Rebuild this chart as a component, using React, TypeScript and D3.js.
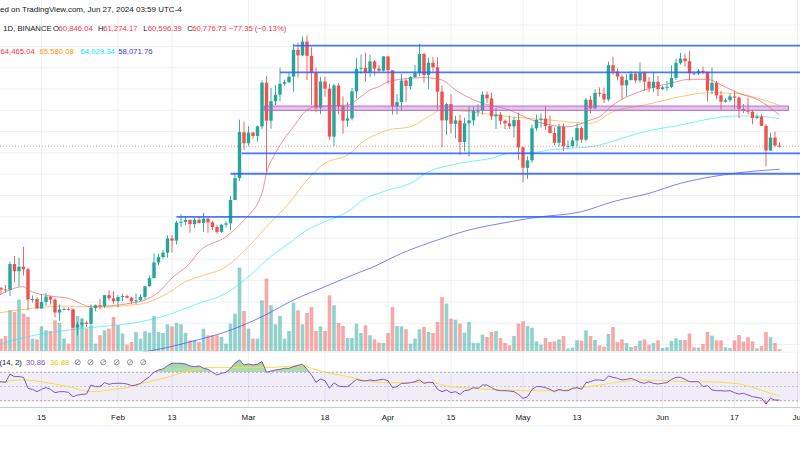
import React from "react";
import * as d3 from "d3";

// ---------- DATA (BINANCE BTC, 1D) ----------
const START_DATE = "2024-01-05";

const opens = [
  44150,44160,43970,43930,46950,46110,46630,46340,42780,42840,
  41730,42510,43140,42770,41260,41620,41660,41570,39500,39850,
  40080,39930,41800,42120,42030,43300,42940,42580,43080,43190,
  43000,42580,42700,43090,44340,45300,47150,47770,48290,49960,
  49700,51820,51900,52140,51640,52140,51780,52280,51850,51300,
  50730,51570,51730,54480,57040,62430,61130,62390,61990,63110,
  68240,63780,66070,66830,68120,68310,68950,72100,71450,73070,
  71390,69400,65300,68390,67550,61910,67910,65490,63780,64060,
  67230,69880,69990,69450,70740,69890,69650,71330,69700,65460,
  65960,68500,67840,68900,69360,71620,69140,70590,70060,67190,
  63820,65730,63420,63810,61280,63470,63820,64940,64940,66840,
  66400,64290,64500,63770,63460,63120,63860,60640,58250,59120,
  62890,63890,64030,63160,62330,61190,63070,60790,60820,61460,
  62910,61550,66250,65230,67050,66940,66270,70300,69550,68950,
  67930,68540,69290,68510,69390,68360,67640,68350,67490,67710,
  67750,68800,70570,71080,70760,69340,69310,69650,69510,67320,
  68240,66750,66010,66190,66640,66490,65150,64960,64830,64100,
  64260,63160,60280,61800,60846.04,
];
const highs = [
  44500,44230,44500,47250,47900,47700,48970,46500,43260,43070,
  43400,43580,43200,42930,42200,41870,41880,41680,40130,40550,
  40300,42220,42200,42840,43310,43880,43750,43290,43490,43380,
  43120,43500,43400,44370,45600,48200,48170,48590,50330,50370,
  52040,52820,52580,52190,52380,52490,52980,52370,52050,51550,
  51680,51960,54940,57590,63910,63680,63110,62430,63230,68500,
  69000,67640,67980,69990,68580,69500,72800,72960,73650,73780,
  72400,70000,68900,68960,68110,68100,68200,66650,65970,67620,
  71150,71560,71770,71550,70900,70330,71370,71340,69700,66900,
  69290,68730,69000,70320,72800,71760,71170,71260,71230,67930,
  65840,66870,64360,64490,64130,65450,65440,65700,67230,67210,
  67080,65290,64800,63930,64370,64230,64730,60780,59600,63320,
  64490,64640,65500,64390,62990,63420,63460,61490,61820,63450,
  63100,66460,66700,67450,67700,67690,70700,71300,69900,69200,
  69220,69580,69560,70620,69560,68920,69500,69030,67860,68450,
  70280,71060,71760,71630,71950,69580,69850,70150,69560,69990,
  68450,67300,66400,66980,67300,66570,65730,66480,65070,64530,
  64550,63370,62370,62480,61274.17,
];
const lows = [
  42600,43400,43600,43200,44800,44300,45600,41500,42440,41720,
  41700,42050,42200,40680,40280,41500,41500,39440,38560,39480,
  39550,39800,41400,41620,41800,42680,42280,41880,42580,42880,
  42220,42260,42570,42790,44330,45250,46800,47560,47710,48300,
  49250,51300,51550,50620,51160,51680,50760,50630,50930,50520,
  50590,51280,50900,54450,56700,60360,60780,61600,61300,62800,
  57800,62850,65600,66070,67880,68180,67200,68850,71330,68560,
  65630,64780,64550,66600,61540,60780,64530,62260,63060,63800,
  66390,69280,68380,68900,69080,69500,69560,68110,64500,64500,
  65050,66010,67450,68820,69040,68220,67520,69560,65090,60660,
  62130,62270,61700,59770,60170,59600,63170,64250,64500,65850,
  63880,62800,63300,62790,62810,61800,59190,56550,56940,58850,
  62600,62950,62700,62280,60890,60750,60190,60490,60630,60750,
  61150,61330,64620,65120,66600,65850,66060,69200,68500,66300,
  66620,68540,68230,68250,67300,67120,67130,66670,67390,67300,
  67610,68560,70380,70120,68500,69120,69150,69230,66050,66900,
  66300,65080,65870,65980,65120,64060,64690,64500,63380,63930,
  63200,58400,60250,60720,60596.39,
];
const closes = [
  44160,43970,43930,46950,46110,46630,46340,42780,42840,41730,
  42510,43140,42770,41260,41620,41660,41570,39500,39850,40080,
  39930,41800,42120,42030,43300,42940,42580,43080,43190,43000,
  42580,42700,43090,44340,45300,47150,47770,48290,49960,49700,
  51820,51900,52140,51640,52140,51780,52280,51850,51300,50730,
  51570,51730,54480,57040,62430,61130,62390,61990,63110,68240,
  63780,66070,66830,68120,68310,68950,72100,71450,73070,71390,
  69400,65300,68390,67550,61910,67910,65490,63780,64060,67230,
  69880,69990,69450,70740,69890,69650,71330,69700,65460,65960,
  68500,67840,68900,69360,71620,69140,70590,70060,67190,63820,
  65730,63420,63810,61280,63470,63820,64940,64940,66840,66400,
  64290,64500,63770,63460,63120,63860,60640,58250,59120,62890,
  63890,64030,63160,62330,61190,63070,60790,60820,61460,62910,
  61550,66250,65230,67050,66940,66270,70300,69550,68950,67930,
  68540,69290,68510,69390,68360,67640,68350,67490,67710,67750,
  68800,70570,71080,70760,69340,69310,69650,69510,67320,68240,
  66750,66010,66190,66640,66490,65150,64960,64830,64100,64260,
  63160,60280,61800,60854.08,60776.73,
];
// volume, thousand BTC
const volumes = [
  21,18.2,21.9,58.8,56.3,74.1,54,49.2,18.2,17.2,
  35.8,30.1,29.1,44.4,40.6,18.2,11,61.2,50.6,46.9,
  32.5,37.3,11,22.9,30.1,32.5,49.2,37.3,25.4,9.6,
  13.3,27.7,18.2,28.7,26.8,50.6,27.7,26.2,38.7,35.8,
  40.6,38.7,26.2,15.8,15.8,13.3,32.5,22.9,22.9,22.9,
  20.5,11,39.7,54,120,57.8,32.5,18.2,18.2,73.1,
  104.2,65.9,38.7,50.6,18.2,29.1,69.8,58.8,38.7,54.9,
  63.5,29.1,35.8,29.1,80.3,65.9,40.6,36.3,19.1,19.1,
  39.7,26.2,37.3,22.9,17.2,12.5,11.9,26.2,63.5,36.3,
  35.8,31.5,11,18.2,31.5,34.8,27.7,26.2,42,77.8,
  68.4,46.9,45.4,39.7,26.8,42,11.9,11.9,23.9,20.5,
  27.7,29.1,19.1,11.9,8.6,21.9,39.7,43,36.3,33.7,
  14.3,9.6,19.1,13.3,14.3,17.2,21.9,3.9,5.3,15.8,
  15.3,30.1,21.9,16.2,8.6,6.7,24.8,34.8,13.3,17.2,
  11.9,6.2,7.6,15.3,17.2,9.6,11.9,15.8,4.7,5.7,
  14.8,18.6,16.2,16.2,25.4,5.7,5.3,10.5,27.7,22.5,
  15.8,15.8,5.7,4.7,15.8,23.4,13.9,20.1,14.3,4.3,
  7.6,27.7,20.1,11.9,3.3,
];
const rsiValues = [
  55,56.8,55.9,67.2,63.9,63.9,62.9,47.4,46,42.7,
  46,48.4,46,41.3,42.7,42.7,41.8,35.6,38,38.9,
  39.4,52.1,49.8,49.8,55.4,53.1,54.5,54.5,54.5,53.5,
  51.2,52.1,54.5,59.2,63.9,70,73.3,74.7,79.4,82.7,
  82.7,82.7,81.8,78.9,78,78.9,75.6,74.2,70,66.2,
  68.6,70,75.6,82.7,87.4,80.4,81.8,80.4,81.3,85.1,
  70,71.9,73.3,74.2,75.6,75.6,78,79.9,81.3,74.2,
  66.2,55.9,60.6,58.2,47.4,55.4,50.7,49.8,49.8,54.5,
  60.1,58.2,57.8,59.2,58.2,59.2,60.1,58.2,48.4,49.8,
  54.5,54.5,55.4,56.8,59.2,54.5,55.9,55.4,46,42.7,
  45.1,41.3,42.7,38.9,44.1,45.1,48.4,47.4,52.1,52.1,
  48.4,45.1,44.1,44.1,43.6,42.7,38.9,33.3,35.6,46,
  49.8,49.8,48.4,46,42.7,46,44.1,44.1,47.4,48.4,
  46,55.4,56.8,59.2,59.2,58.2,64.8,62.9,61.5,59.2,
  60.1,61.5,59.2,55.9,54.5,56.8,54.5,53.5,54.5,55.4,
  60.1,62.9,62.9,60.1,56.8,56.8,56.8,49.8,51.2,45.1,
  44.1,44.1,43.6,44.1,41.3,39.4,40.4,38,35.6,34.7,
  33.3,25.3,33.3,30.9,30.86,
];
const rsiMa: [string, number][] = [
  ["2024-01-05",55.4],["2024-01-11",59.2],["2024-01-17",54.5],["2024-01-21",49.8],
  ["2024-01-26",42.7],["2024-01-30",45.1],["2024-02-04",49.8],["2024-02-07",55.4],
  ["2024-02-12",62.9],["2024-02-16",70.9],["2024-02-21",76.6],["2024-02-27",76.6],
  ["2024-03-02",76.6],["2024-03-07",77.1],["2024-03-11",78.9],["2024-03-13",79.4],
  ["2024-03-15",75.6],["2024-03-19",68.6],["2024-03-24",62.9],["2024-03-27",58.2],
  ["2024-03-31",55.4],["2024-04-04",55.4],["2024-04-10",55.9],["2024-04-15",49.8],
  ["2024-04-20",47.4],["2024-04-26",45.1],["2024-05-02",44.1],["2024-05-08",44.1],
  ["2024-05-13",47.4],["2024-05-18",52.1],["2024-05-23",56.8],["2024-05-27",59.2],
  ["2024-06-02",58.2],["2024-06-06",56.8],["2024-06-09",56.8],["2024-06-17",54.5],
  ["2024-06-21",48.8],["2024-06-24",42.7],["2024-06-27",36.88],
];
const emaRed: [string, number][] = [
  ["2024-01-05",43118],["2024-01-11",44292],["2024-01-12",43905],["2024-01-17",43200],
  ["2024-01-21",42930],["2024-01-26",41944],["2024-01-30",42026],["2024-02-04",42378],
  ["2024-02-07",42730],["2024-02-10",43650],["2024-02-13",45313],["2024-02-17",47074],
  ["2024-02-19",48401],["2024-02-25",50162],["2024-02-29",52122],["2024-03-04",55292],
  ["2024-03-05",57640],["2024-03-07",59988],["2024-03-11",63076],["2024-03-14",65036],
  ["2024-03-16",65424],["2024-03-23",65623],["2024-03-26",66598],["2024-03-28",67385],
  ["2024-03-30",67772],["2024-04-01",68359],["2024-04-06",68758],["2024-04-09",68840],
  ["2024-04-13",68560],["2024-04-16",67385],["2024-04-21",66011],["2024-04-28",65036],
  ["2024-05-03",63862],["2024-05-07",63276],["2024-05-11",63076],["2024-05-16",63862],
  ["2024-05-18",64250],["2024-05-21",65623],["2024-05-28",67385],["2024-06-03",68206],
  ["2024-06-07",68641],["2024-06-11",68641],["2024-06-14",67971],["2024-06-18",66997],
  ["2024-06-23",66011],["2024-06-25",65236],["2024-06-27",64465.04],
];
const emaOrange: [string, number][] = [
  ["2024-01-05",41169],["2024-01-13",41756],["2024-01-21",42026],["2024-01-27",41873],
  ["2024-02-04",42143],["2024-02-07",42343],["2024-02-12",43517],["2024-02-16",44879],
  ["2024-02-19",45466],["2024-02-25",46640],["2024-03-01",48988],["2024-03-05",51336],
  ["2024-03-10",54083],["2024-03-14",56819],["2024-03-18",58779],["2024-03-23",59753],
  ["2024-03-27",61514],["2024-03-30",62301],["2024-04-01",62688],["2024-04-06",63076],
  ["2024-04-10",64250],["2024-04-13",65036],["2024-04-19",64837],["2024-04-28",64250],
  ["2024-05-07",63862],["2024-05-16",63475],["2024-05-21",64837],["2024-05-28",65623],
  ["2024-06-05",66598],["2024-06-11",67067],["2024-06-17",66997],["2024-06-21",66598],
  ["2024-06-27",65580.08],
];
const emaCyan: [string, number][] = [
  ["2024-01-05",37447],["2024-01-12",38422],["2024-01-21",39209],["2024-01-28",39596],
  ["2024-02-04",39995],["2024-02-12",40970],["2024-02-16",41756],["2024-02-19",42343],
  ["2024-02-25",43517],["2024-03-01",45466],["2024-03-05",47427],["2024-03-10",49387],
  ["2024-03-14",50949],["2024-03-18",51923],["2024-03-23",53097],["2024-03-27",54670],
  ["2024-03-30",55257],["2024-04-01",55644],["2024-04-06",56431],["2024-04-10",57793],
  ["2024-04-15",58579],["2024-04-19",58967],["2024-04-24",59366],["2024-04-28",59953],
  ["2024-05-03",60023],["2024-05-07",60340],["2024-05-11",60540],["2024-05-16",60728],
  ["2024-05-18",60927],["2024-05-23",61714],["2024-05-28",62489],["2024-06-05",63275],
  ["2024-06-11",63945],["2024-06-17",64332],["2024-06-21",64332],["2024-06-27",64029.34],
];
const emaBlue: [string, number][] = [
  ["2024-02-02",36300],["2024-02-10",36943],["2024-02-18",37950],["2024-02-25",39009],
  ["2024-03-04",40770],["2024-03-11",42731],["2024-03-18",44292],["2024-03-26",46053],
  ["2024-03-28",46452],["2024-04-04",48213],["2024-04-12",49775],["2024-04-19",50949],
  ["2024-04-27",51806],["2024-05-04",52439],["2024-05-14",53097],["2024-05-21",54271],
  ["2024-05-29",55257],["2024-06-05",56431],["2024-06-12",57206],["2024-06-20",57793],
  ["2024-06-27",58071.76],
];
// horizontal levels drawn on the chart: [start date, price]
const levelLines: [string, number][] = [
  ["2024-03-11",72600],["2024-03-08",69450],["2024-02-28T12:00:00Z",59950],
  ["2024-02-26",57550],["2024-02-14",52480],
];
const zoneBand = { from: "2024-03-04T12:00:00Z", to: "2024-06-29", lo: 65000, hi: 65500 };
const tickDates = ["2024-01-15","2024-02-01","2024-02-13","2024-03-01","2024-03-18","2024-04-01",
  "2024-04-15","2024-05-01","2024-05-13","2024-06-01","2024-06-17","2024-07-01"];
const tickLabels = ["15","Feb","13","Mar","18","Apr","15","May","13","Jun","17","Jul"];
const priceGrid = d3.range(37500, 75001, 2500);

const parse = (s: string) => new Date(s.length === 10 ? s + "T00:00:00Z" : s);

const FONT = "'Liberation Sans', Arial, sans-serif";
const FS = 7.7;
const FS_BIG = 8;
const UP = "#26a69a";
const DOWN = "#ef5350";

export default function App() {
  const W = 800, H = 450;
  const start = parse(START_DATE);
  const dates = opens.map((_, i) => d3.utcDay.offset(start, i));
  const x = d3.scaleUtc().domain([parse("2024-01-01"), parse("2024-07-01")]).range([-21.5, 797.5]);
  const y = d3.scaleLinear().domain([37500, 72500]).range([344.55, 46.43]);
  const yVol = d3.scaleLinear().domain([0, 120]).range([351.3, 267.6]);
  const yRsi = d3.scaleLinear().domain([30, 70]).range([400.7, 372.3]);
  const MAIN_BOTTOM = 351.5;
  const RSI_TOP = 352.5, RSI_BOTTOM = 407;

  const maLine = d3.line<[string, number]>()
    .x((d) => x(parse(d[0])))
    .y((d) => y(d[1]))
    .curve(d3.curveMonotoneX);
  const rsiLine = d3.line<number>().x((_, i) => x(dates[i])).y((d) => yRsi(d));
  const rsiMaLine = d3.line<[string, number]>()
    .x((d) => x(parse(d[0]))).y((d) => yRsi(d[1])).curve(d3.curveMonotoneX);
  const rsiAreaUp = d3.area<number>().x((_, i) => x(dates[i])).y0(yRsi(70)).y1((d) => yRsi(d));
  const rsiAreaDn = d3.area<number>().x((_, i) => x(dates[i])).y0(yRsi(30)).y1((d) => yRsi(d));

  const n = closes.length;
  const last = { o: opens[n - 1], h: highs[n - 1], l: lows[n - 1], c: closes[n - 1] };
  const chg = last.c - closes[n - 2];
  const pct = (chg / closes[n - 2]) * 100;
  const f2 = d3.format(",.2f");
  const minus = (s: string) => s.replace("-", "\u2212");
  const red = "#f23645";

  const maLegend: { v: number; c: string; x: number }[] = [
    { v: emaRed[emaRed.length - 1][1], c: "#f23645", x: 0.5 },
    { v: emaOrange[emaOrange.length - 1][1], c: "#ff9800", x: 39.5 },
    { v: emaCyan[emaCyan.length - 1][1], c: "#00e5ff", x: 80.5 },
    { v: emaBlue[emaBlue.length - 1][1], c: "#3535f0", x: 118.3 },
  ];

  return (
    <svg width={W} height={H} style={{ position: "absolute", left: 0, top: 0, background: "#fff" }}
      fontFamily={FONT}>
      <defs>
        <clipPath id="mainClip"><rect x={0} y={0} width={W} height={MAIN_BOTTOM} /></clipPath>
        <clipPath id="rsiClip"><rect x={0} y={RSI_TOP} width={W} height={RSI_BOTTOM - RSI_TOP} /></clipPath>
        <clipPath id="above70"><rect x={0} y={0} width={W} height={yRsi(70)} /></clipPath>
        <clipPath id="below30"><rect x={0} y={yRsi(30)} width={W} height={60} /></clipPath>
        <linearGradient id="gUp" x1="0" y1="0" x2="0" y2="1">
          <stop offset="0%" stopColor="#4caf50" stopOpacity={0.55} />
          <stop offset="100%" stopColor="#4caf50" stopOpacity={0.05} />
        </linearGradient>
        <linearGradient id="gDn" x1="0" y1="0" x2="0" y2="1">
          <stop offset="0%" stopColor="#f44336" stopOpacity={0.05} />
          <stop offset="100%" stopColor="#f44336" stopOpacity={0.5} />
        </linearGradient>
      </defs>
      <rect x={0} y={0} width={W} height={H} fill="#ffffff" />

      {/* grid */}
      <g stroke="#eef1f6" strokeWidth={1}>
        {tickDates.map((t) => (
          <line key={t} x1={x(parse(t))} x2={x(parse(t))} y1={0} y2={RSI_BOTTOM} />
        ))}
        {priceGrid.map((p) => (
          <line key={p} x1={0} x2={W} y1={y(p)} y2={y(p)} />
        ))}
      </g>

      {/* main pane */}
      <g clipPath="url(#mainClip)">
        {dates.map((dt, i) => {
          const up = closes[i] >= opens[i];
          const v = yVol(volumes[i]);
          return (
            <rect key={"v" + i} x={x(dt) - 1.8} y={v} width={3.6} height={yVol(0) - v}
              fill={up ? "rgba(38,166,154,0.5)" : "rgba(239,83,80,0.5)"} />
          );
        })}
        <path d={maLine(emaBlue) || ""} fill="none" stroke="#3d3df2" strokeOpacity={0.65} strokeWidth={1} />
        <path d={maLine(emaCyan) || ""} fill="none" stroke="#1de9f6" strokeOpacity={0.6} strokeWidth={1} />
        <path d={maLine(emaOrange) || ""} fill="none" stroke="#ff9800" strokeOpacity={0.55} strokeWidth={1} />
        <path d={maLine(emaRed) || ""} fill="none" stroke="#f23645" strokeOpacity={0.55} strokeWidth={1} />

        {dates.map((dt, i) => {
          const up = closes[i] >= opens[i];
          const col = up ? UP : DOWN;
          const cx = x(dt);
          const top = y(Math.max(opens[i], closes[i]));
          const bot = y(Math.min(opens[i], closes[i]));
          return (
            <g key={"c" + i}>
              <line x1={cx} x2={cx} y1={y(highs[i])} y2={y(lows[i])} stroke={col} strokeWidth={0.9} />
              <rect x={cx - 1.7} y={top} width={3.4} height={Math.max(0.9, bot - top)} fill={col} />
            </g>
          );
        })}

        {/* drawings */}
        <rect x={x(parse(zoneBand.from))} y={y(zoneBand.hi)}
          width={x(parse(zoneBand.to)) - x(parse(zoneBand.from))} height={y(zoneBand.lo) - y(zoneBand.hi)}
          fill="rgba(186,104,200,0.38)" stroke="#b45fc4" strokeWidth={0.9} />
        {levelLines.map(([d, p]) => (
          <line key={p} x1={x(parse(d))} x2={W} y1={y(p)} y2={y(p)} stroke="#2962ff" strokeOpacity={0.85} strokeWidth={1.8} />
        ))}
        <line x1={0} x2={W} y1={y(last.c)} y2={y(last.c)} stroke={red} strokeOpacity={0.6}
          strokeWidth={0.8} strokeDasharray="1 2" />
      </g>

      {/* pane separator */}
      <line x1={0} x2={W} y1={352} y2={352} stroke="#f0f2f6" strokeWidth={1} />

      {/* RSI pane */}
      <g>
        <rect x={0} y={yRsi(70)} width={W} height={yRsi(30) - yRsi(70)} fill="rgba(126,87,194,0.1)" />
        {[70, 50, 30].map((lv) => (
          <line key={lv} x1={0} x2={W} y1={yRsi(lv)} y2={yRsi(lv)} stroke="#787b86"
            strokeOpacity={lv === 50 ? 0.45 : 0.7} strokeWidth={0.8} strokeDasharray="2 2" />
        ))}
        <g clipPath="url(#rsiClip)">
          <path d={rsiAreaUp(rsiValues) || ""} fill="url(#gUp)" clipPath="url(#above70)" />
          <path d={rsiAreaDn(rsiValues) || ""} fill="url(#gDn)" clipPath="url(#below30)" />
        </g>
        <path d={rsiMaLine(rsiMa) || ""} fill="none" stroke="#f7e13e" strokeWidth={1} />
        <path d={rsiLine(rsiValues) || ""} fill="none" stroke="#7e57c2" strokeWidth={1} />
      </g>

      {/* time axis */}
      <line x1={0} x2={W} y1={RSI_BOTTOM + 0.5} y2={RSI_BOTTOM + 0.5} stroke="#c9ccd4" strokeWidth={1.2} />
      <line x1={0} x2={W} y1={426} y2={426} stroke="#eef0f3" strokeWidth={1} />
      {tickDates.map((t, i) => (
        <text key={t} x={x(parse(t))} y={420} fontSize={FS_BIG} fill="#131722" textAnchor="middle">
          {tickLabels[i]}
        </text>
      ))}

      {/* legends */}
      <text x={0} y={12.3} fontSize={FS_BIG} fill="#131722" textAnchor="end">Publish</text>
      <text x={0} y={12.3} fontSize={FS_BIG} fill="#131722">ed on TradingView.com, Jun 27, 2024 03:59 UTC-4</text>

      <g fontSize={FS}>
        <text x={3.3} y={30.5} fill="#131722">1D, BINANCE</text>
        <text x={53} y={30.5} fill="#131722">O</text>
        <text x={58.6} y={30.5} fill={red}>{f2(last.o)}</text>
        <text x={98} y={30.5} fill="#131722">H</text>
        <text x={103.3} y={30.5} fill={red}>{f2(last.h)}</text>
        <text x={143.2} y={30.5} fill="#131722">L</text>
        <text x={147.7} y={30.5} fill={red}>{f2(last.l)}</text>
        <text x={187.2} y={30.5} fill="#131722">C</text>
        <text x={192.2} y={30.5} fill={red}>{f2(last.c)}</text>
        <text x={229} y={30.5} fill={red}>{minus(f2(chg))} ({minus(d3.format(".2f")(pct))}%)</text>
      </g>

      <g fontSize={FS}>
        {maLegend.map((m) => (
          <text key={m.c} x={m.x} y={53.5} fill={m.c}>{f2(m.v)}</text>
        ))}
      </g>

      <g fontSize={FS}>
        <text x={-0.5} y={364.8} fill="#131722" textAnchor="end">RSI </text>
        <text x={-0.5} y={364.8} fill="#131722">(14, 2)</text>
        <text x={26} y={364.8} fill="#7e57c2">{d3.format(".2f")(rsiValues[rsiValues.length - 1])}</text>
        <text x={50} y={364.8} fill="#e6c800">{d3.format(".2f")(rsiMa[rsiMa.length - 1][1])}</text>
        {[77.7, 90.5, 103.3, 116.6, 130, 143.2].map((cx) => (
          <g key={cx} stroke="#787b86" strokeWidth={0.75} fill="none">
            <circle cx={cx} cy={362.3} r={2.6} />
            <line x1={cx - 1.8} y1={364.1} x2={cx + 1.8} y2={360.5} />
          </g>
        ))}
      </g>
    </svg>
  );
}
